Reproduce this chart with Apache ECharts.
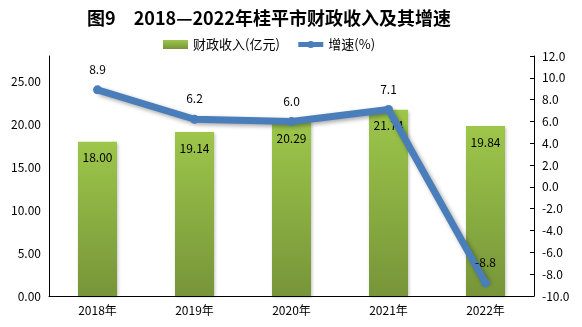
<!DOCTYPE html>
<html><head><meta charset="utf-8">
<script src="https://cdn.jsdelivr.net/npm/echarts@6/dist/echarts.min.js"></script>
<style>html,body{margin:0;padding:0;background:#fff}#c{width:582px;height:327px}</style>
</head><body><div id="c"></div>
<script>
const categories = ['2018年','2019年','2020年','2021年','2022年'];
const revenue = [18.00, 19.14, 20.29, 21.74, 19.84];
const growth = [8.9, 6.2, 6.0, 7.1, -8.8];
const titleText = '图9　2018—2022年桂平市财政收入及其增速';
const FONT = '"Noto Sans CJK SC", sans-serif';

const chart = echarts.init(document.getElementById('c'));
chart.setOption({
  animation: false,
  textStyle: {fontFamily: FONT},
  title: {text: titleText, left: 264, textAlign: 'center', top: 4,
    textStyle: {fontSize: 18, fontWeight: 'bold', color: '#000', fontFamily: FONT}},
  legend: {top: 33, left: 158, itemGap: 16, itemWidth: 25, itemHeight: 9,
    textStyle: {fontSize: 13, color: '#000', fontFamily: FONT},
    data: [{name: '财政收入(亿元)', icon: 'rect'},
           {name: '增速(%)', lineStyle: {width: 5}, itemStyle: {color: '#4a7ebb'}}]},
  grid: {left: 49, right: 48, top: 56, bottom: 31},
  xAxis: {type: 'category', data: categories,
    axisLine: {lineStyle: {color: '#000', width: 1}},
    axisTick: {inside: true, alignWithLabel: false, length: 5, lineStyle: {color: '#000'}},
    axisLabel: {color: '#000', fontSize: 12, margin: 8}},
  yAxis: [{type: 'value', min: 0, max: 28, interval: 5,
    axisLine: {show: true, lineStyle: {color: '#000'}},
    axisTick: {show: false}, splitLine: {show: false},
    axisLabel: {color: '#000', fontSize: 12, showMaxLabel: false, formatter: v => v.toFixed(2)}},
   {type: 'value', min: -10, max: 12, interval: 2,
    axisLine: {show: true, lineStyle: {color: '#000'}},
    axisTick: {show: true, inside: true, length: 4, lineStyle: {color: '#000'}}, splitLine: {show: false},
    axisLabel: {color: '#000', fontSize: 12, formatter: v => v.toFixed(1)}}],
  series: [
    {name: '财政收入(亿元)', type: 'bar', data: revenue, barWidth: 39,
     itemStyle: {color: new echarts.graphic.LinearGradient(0,0,0,1,[{offset:0,color:'#9dc64a'},{offset:1,color:'#779539'}]),
       shadowColor: 'rgba(0,0,0,0.25)', shadowBlur: 3, shadowOffsetX: 1, shadowOffsetY: 1},
     label: {show: true, position: 'insideTop', distance: 10, color: '#000', fontSize: 12, formatter: p => p.value.toFixed(2)}},
    {name: '增速(%)', type: 'line', yAxisIndex: 1, data: growth,
     symbol: 'circle', symbolSize: 9,
     lineStyle: {color: '#4a7ebb', width: 7, shadowColor: 'rgba(0,0,0,0.35)', shadowBlur: 4, shadowOffsetX: 2, shadowOffsetY: 2},
     itemStyle: {color: '#4a7ebb'},
     label: {show: true, position: 'top', distance: 10, color: '#000', fontSize: 12, formatter: p => p.value.toFixed(1)}}
  ]
});
</script></body></html>
